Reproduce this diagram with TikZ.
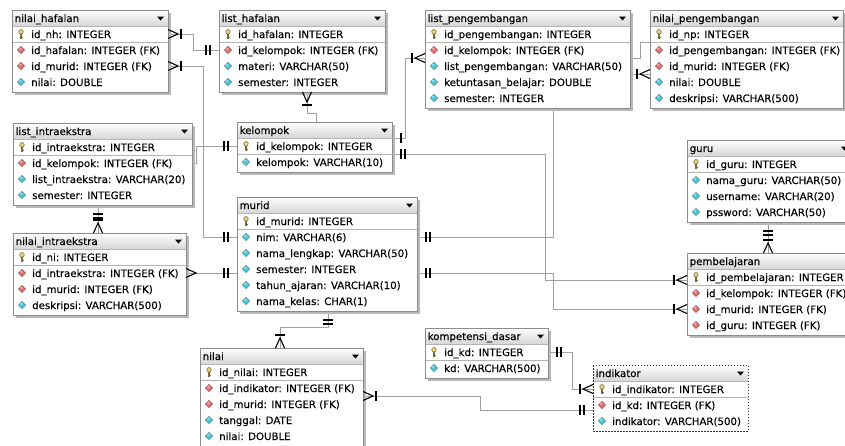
\documentclass[tikz,border=0pt]{standalone}
\usepackage{fontspec}
\setmainfont{DejaVu Sans}
\newfontfamily\ERfam[FakeBold=0.25]{DejaVu Sans}
\usetikzlibrary{calc,backgrounds}
\definecolor{connc}{HTML}{A0A0A0}
\definecolor{borderc}{HTML}{8C8C8C}
\definecolor{shadowc}{HTML}{B8B8B8}
\definecolor{headc}{HTML}{D6D6D6}
\definecolor{sepc}{HTML}{B4B4B4}
\definecolor{fkc}{HTML}{E07272}
\definecolor{atc}{HTML}{52C6D6}
\definecolor{keyc}{HTML}{E6D07A}
\definecolor{keyd}{HTML}{7A6A3A}
\newcommand\ERfont{\ERfam\fontsize{10.2}{12}\selectfont}
\newcommand\ERkey{\filldraw[fill=keyc,draw=keyd,line width=.5pt] (0,-2.2) circle (2.3);
  \draw[keyd,line width=1.2pt] (0,0) -- (0,4.8);
  \draw[keyd,line width=.8pt] (0,3) -- (1.6,3) (0,4.6) -- (1.4,4.6);}
\newcommand\ERfk{\filldraw[fill=fkc,draw=fkc!60!black,line width=.4pt] (0,-3.6)--(3.6,0)--(0,3.6)--(-3.6,0)--cycle;
  \fill[white,opacity=.55] (-.8,-1.2) circle (1.1);}
\newcommand\ERat{\filldraw[fill=atc,draw=atc!60!black,line width=.4pt] (0,-3.6)--(3.6,0)--(0,3.6)--(-3.6,0)--cycle;
  \fill[white,opacity=.55] (-.8,-1.2) circle (1.1);}
\tikzset{
  ershadow/.style={fill=shadowc},
  conn/.style={connc,line width=.8pt},
  mk/.style={black,line width=1.1pt},
  pics/crowbar/.style={code={\draw[mk] (0,4.5)--(10,0)--(0,-4.5); \draw[mk] (13,5)--(13,-5);}},
  pics/crow/.style={code={\draw[mk] (0,4.5)--(10,0)--(0,-4.5);}},
  pics/twobar/.style={code={\draw[mk] (9,5)--(9,-5) (13,5)--(13,-5);}},
  pics/onebar/.style={code={\draw[mk] (9,5)--(9,-5);}},
}
% #1 border options, #2 name, #3 left, #4 top, #5 right, #6 title, #7 rows
\newcommand\ERtable[7][]{%
  \foreach \q [count=\n] in {#7} {\xdef\ERn{\n}}%
  \pgfmathsetmacro\ERw{#5-#3}%
  \pgfmathsetmacro\ERh{18+16*\ERn}%
  \path[ershadow] (#3+3,#4+3) rectangle ++(\ERw,\ERh);
  \node[fill=white,inner sep=0,outer sep=0,minimum width=\ERw pt,minimum height=\ERh pt,anchor=north west] (#2) at (#3,#4) {};
  \shade[top color=white,bottom color=headc] (#3,#4) rectangle ++(\ERw,16);
  \node[anchor=base west,inner sep=0,font=\ERfont] (#2-t) at (#3+2.5,#4+12) {#6};
  \fill (#5-11,#4+6.5) -- ++(7,0) -- ++(-3.5,4) -- cycle;
  \draw[sepc] (#3,#4+16) -- ++(\ERw,0) (#3,#4+32) -- ++(\ERw,0);
  \foreach \ty/\tx [count=\i] in {#7} {%
    \node[inner sep=0,outer sep=0,minimum width=\ERw pt,minimum height=16pt,anchor=north west] (#2-\i) at (#3,#4+16*\i) {};
    \begin{scope}[shift={(#3+9,#4+16*\i+8)}]\csname ER\ty\endcsname\end{scope}
    \node[anchor=base west,inner sep=0,font=\ERfont] at (#3+19,#4+16*\i+12) {\tx};
  }%
  \draw[borderc,line width=.8pt,#1] (#2.north west) rectangle (#2.south east);
}
\begin{document}
\begin{tikzpicture}[x=1pt,y=-1pt]
\useasboundingbox (0,0) rectangle (845,445);
\clip (0,0) rectangle (845,445);
\coordinate (c4) at (98,0);
\coordinate (c11a) at (328,0);
\coordinate (c11b) at (280,0);
\coordinate (c14a) at (307,0);
\coordinate (c14b) at (316,0);
\coordinate (c15) at (768,0);

\ERtable{nh}{12}{10}{168}{nilai\_hafalan}{key/id\_nh: INTEGER, fk/id\_hafalan: INTEGER (FK), fk/id\_murid: INTEGER (FK), at/nilai: DOUBLE}
\ERtable{lh}{219}{10}{385}{list\_hafalan}{key/id\_hafalan: INTEGER, fk/id\_kelompok: INTEGER (FK), at/materi: VARCHAR(50), at/semester: INTEGER}
\ERtable{lp}{425}{10}{630}{list\_pengembangan}{key/id\_pengembangan: INTEGER, fk/id\_kelompok: INTEGER (FK), at/list\_pengembangan: VARCHAR(50), at/ketuntasan\_belajar: DOUBLE, at/semester: INTEGER}
\ERtable{np}{650}{10}{843}{nilai\_pengembangan}{key/id\_np: INTEGER, fk/id\_pengembangan: INTEGER (FK), fk/id\_murid: INTEGER (FK), at/nilai: DOUBLE, at/deskripsi: VARCHAR(500)}
\ERtable{li}{13}{123}{192}{list\_intraekstra}{key/id\_intraekstra: INTEGER, fk/id\_kelompok: INTEGER (FK), at/list\_intraekstra: VARCHAR(20), at/semester: INTEGER}
\ERtable{ni}{13}{233}{186}{nilai\_intraekstra}{key/id\_ni: INTEGER, fk/id\_intraekstra: INTEGER (FK), fk/id\_murid: INTEGER (FK), at/deskripsi: VARCHAR(500)}
\ERtable{kl}{237}{122}{392}{kelompok}{key/id\_kelompok: INTEGER, at/kelompok: VARCHAR(10)}
\ERtable{mu}{237}{197}{417}{murid}{key/id\_murid: INTEGER, at/nim: VARCHAR(6), at/nama\_lengkap: VARCHAR(50), at/semester: INTEGER, at/tahun\_ajaran: VARCHAR(10), at/nama\_kelas: CHAR(1)}
\ERtable{gu}{687}{140}{852}{guru}{key/id\_guru: INTEGER, at/nama\_guru: VARCHAR(50), at/username: VARCHAR(20), at/pssword: VARCHAR(50)}
\ERtable{pb}{687}{253}{856}{pembelajaran}{key/id\_pembelajaran: INTEGER, fk/id\_kelompok: INTEGER (FK), fk/id\_murid: INTEGER (FK), fk/id\_guru: INTEGER (FK)}
\ERtable{nl}{200}{348}{363}{nilai}{key/id\_nilai: INTEGER, fk/id\_indikator: INTEGER (FK), fk/id\_murid: INTEGER (FK), at/tanggal: DATE, at/nilai: DOUBLE}
\ERtable{kd}{425}{328}{548}{kompetensi\_dasar}{key/id\_kd: INTEGER, at/kd: VARCHAR(500)}
\begin{scope}
\tikzset{ershadow/.style={fill=none}}
\ERtable[black!80,dash pattern=on 1.5pt off 1.5pt]{ik}{593}{365}{748}{indikator}{key/id\_indikator: INTEGER, fk/id\_kd: INTEGER (FK), at/indikator: VARCHAR(500)}
\end{scope}

\begin{pgfonlayer}{background}
\fill[white] (0,0) rectangle (845,445);
\draw[conn] (nh-1.east) -- ++(25,0) |- (lh-2.west);
\draw[conn] (nh-3.east) -- ++(35,0) |- (mu-2.west);
\draw[conn] (li-2.east) -- ++(4,0) |- (kl-1.west);
\draw[conn] (li.south -| c4) -- (ni.north -| c4);
\draw[conn] (ni-2.east) -- (mu.west |- ni-2.east);
\draw[conn] (kl-1.north east) -- ++(13,0) |- (lp-2.south west);
\draw[conn] (kl-1.south east) -- ++(153,0) |- ([yshift=-3pt]pb-1.west);
\draw[conn] (mu-2.east) -- ++(136,0) |- (np-3.south west);
\draw[conn] (mu.east |- ni-2.east) -- ++(136,0) |- (pb-3.west);
\draw[conn] (lp-2.south east) -- ++(10,0) |- (np-2.north west);
\draw[conn] (mu.south -| c11a) -- ++(0,16) -| (nl.north -| c11b);
\draw[conn] (nl-2.south east) -- ++(117,0) |- ([yshift=-5pt]ik-2.west);
\draw[conn] (kd-1.east) -- ++(24,0) |- (ik-1.west);
\draw[conn] (lh.south -| c14a) -- ++(0,21) -| (kl.north -| c14b);
\draw[conn] (gu.south -| c15) -- (pb.north -| c15);
\end{pgfonlayer}

\pic at (nh-1.east) {crowbar};
\pic[rotate=180] at (lh-2.west) {twobar};
\pic at (nh-3.east) {crowbar};
\pic[rotate=180] at (mu-2.west) {twobar};
\pic[rotate=180] at (kl-1.west) {twobar};
\pic[rotate=-90] at (li.south -| c4) {twobar};
\pic[rotate=90] at (ni.north -| c4) {crowbar};
\pic at (ni-2.east) {crow};
\pic[rotate=180] at (mu.west |- ni-2.east) {twobar};
\pic at (kl-1.north east) {onebar};
\pic[rotate=180] at (lp-2.south west) {crowbar};
\pic at (kl-1.south east) {twobar};
\pic[rotate=180] at ([yshift=-3pt]pb-1.west) {crowbar};
\pic at (mu-2.east) {twobar};
\pic[rotate=180] at (np-3.south west) {crowbar};
\pic at (mu.east |- ni-2.east) {twobar};
\pic[rotate=180] at (pb-3.west) {crowbar};
\pic[rotate=-90] at (mu.south -| c11a) {twobar};
\pic[rotate=90] at (nl.north -| c11b) {crowbar};
\pic at (nl-2.south east) {crowbar};
\pic[rotate=180] at ([yshift=-5pt]ik-2.west) {twobar};
\pic at (kd-1.east) {twobar};
\pic[rotate=180] at (ik-1.west) {crowbar};
\pic[rotate=-90] at (lh.south -| c14a) {crowbar};
\pic[rotate=-90] at (gu.south -| c15) {twobar};
\pic[rotate=90] at (pb.north -| c15) {crowbar};
\end{tikzpicture}
\end{document}
